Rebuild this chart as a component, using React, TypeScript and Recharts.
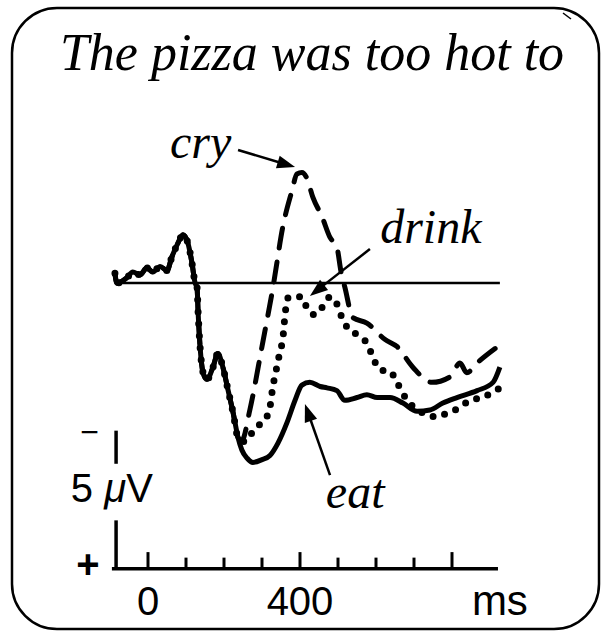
import React from "react";
import { LineChart, Line, XAxis, YAxis, ReferenceLine, ReferenceDot } from "recharts";

// Time in ms, amplitude in µV (negative plotted upward, as usual for ERPs).
// All three conditions share the early part of the waveform.
const EARLY_T = [-87, -82, -55, -40, -21, -3, 13, 32, 50, 63, 79, 92, 105, 116, 124, 129, 132, 137, 145, 155, 171, 184, 197, 211, 224, 237];
const EARLY_V = [-0.35, 0, -0.2, -0.4, -0.3, -0.55, -0.4, -0.6, -0.45, -0.95, -1.45, -1.75, -1.45, -0.7, 0, 0.15, 1.1, 2.3, 3.25, 3.5, 3.05, 2.55, 3.05, 3.9, 4.7, 5.6];

const EAT_T = [247, 261, 276, 300, 321, 342, 366, 387, 405, 426, 453, 471, 497, 518, 550, 576, 603, 637, 671, 708, 742, 776, 813, 866, 908, 926];
const EAT_V = [6.05, 6.35, 6.5, 6.4, 6.25, 5.8, 5.05, 4.25, 3.7, 3.6, 3.75, 3.8, 3.9, 4.25, 4.15, 4.05, 4.15, 4.15, 4.35, 4.65, 4.6, 4.35, 4.15, 3.9, 3.6, 3.05];

const CRY_T = [247, 268, 300, 329, 355, 379, 392, 405, 418, 434, 458, 479, 497, 508, 518, 539, 576, 624, 655, 697, 747, 795, 821, 839, 866, 921];
const CRY_V = [5.7, 4.6, 2.3, 0.15, -2.05, -3.35, -3.95, -4.0, -3.8, -3.1, -2.4, -1.65, -1.3, -0.4, 0.15, 1.25, 1.45, 2.05, 2.3, 3.05, 3.6, 3.4, 2.9, 3.25, 2.9, 2.3];

const DRINK_T = [255, 282, 308, 321, 326, 332, 339, 347, 355, 361, 368, 374, 405, 418, 439, 460, 479, 500, 510, 524, 553, 579, 592, 611, 637, 655, 682, 716, 761, 789, 816, 847, 879, 908, 926];
const DRINK_V = [5.75, 5.25, 4.95, 4.5, 4.0, 3.5, 3.05, 2.5, 2.0, 1.1, 0.55, 0.5, 0.5, 0.9, 1.15, 0.85, 0.5, 0.85, 1.25, 1.6, 1.9, 2.25, 2.7, 3.15, 3.2, 3.6, 4.25, 4.65, 4.85, 4.7, 4.55, 4.25, 4.15, 3.95, 3.8];

const TIME_TICKS = [0, 100, 200, 300, 400, 500, 600, 700, 800];
const MAJOR_TICKS = [0, 400, 800];
const TICK_LABEL_AT = [0, 400];
const TICK_LABELS = ["0", "400"];

const W = 601;
const H = 631;
const MARGIN = { top: 7, right: 35, bottom: 3, left: 34 };
const X_DOMAIN: [number, number] = [-300, 1100];
const Y_DOMAIN: [number, number] = [-10, 12.5];

// time axis + calibration bar (data units)
const AXIS_Y = 10.35;
const AXIS_FROM = -95;
const AXIS_TO = 921;
const CAL_X = -84;
const CAL_TOP = 5.35;
const CAL_BREAK_TOP = 6.55;
const CAL_BREAK_BOTTOM = 8.6;

const pts = (t: number[], v: number[]) => t.map((x, i) => ({ t: x, v: v[i] }));
const eatData = pts([...EARLY_T, ...EAT_T], [...EARLY_V, ...EAT_V]);
const cryData = pts([...EARLY_T, ...CRY_T], [...EARLY_V, ...CRY_V]);
const drinkData = pts([...EARLY_T, ...DRINK_T], [...EARLY_V, ...DRINK_V]);

const serif = { fontFamily: "'Liberation Serif', 'Times New Roman', serif", fontStyle: "italic" };
const sans = { fontFamily: "'Liberation Sans', Arial, sans-serif" };

function textAt(content: React.ReactNode, props: Record<string, unknown>) {
  return (p: any) => (
    <text x={p.cx} y={p.cy} fill="#000" {...props}>
      {content}
    </text>
  );
}

function Arrow(p: any) {
  const { x1, y1, x2, y2 } = p;
  const dx = x2 - x1;
  const dy = y2 - y1;
  const len = Math.hypot(dx, dy) || 1;
  const ux = dx / len;
  const uy = dy / len;
  const hl = 18;
  const hw = 6.5;
  const bx = x2 - ux * hl;
  const by = y2 - uy * hl;
  return (
    <g>
      <line x1={x1} y1={y1} x2={bx + ux * 2} y2={by + uy * 2} stroke="#000" strokeWidth={2.5} />
      <polygon
        points={`${x2},${y2} ${bx - uy * hw},${by + ux * hw} ${bx + uy * hw},${by - ux * hw}`}
        fill="#000"
      />
    </g>
  );
}

export default function App() {
  return (
    <div style={{ position: "absolute", left: 0, top: 0, width: W, height: H, background: "#fff" }}>
      <svg width={W} height={H} style={{ position: "absolute", left: 0, top: 0 }}>
        <rect x={12} y={8} width={587} height={621} rx={45} fill="none" stroke="#000" strokeWidth={2.5} />
        <line x1={563} y1={13} x2={571} y2={19} stroke="#000" strokeWidth={1.5} />
        <text x={312} y={70} textAnchor="middle" fontSize={52} fill="#000" {...serif}>
          The pizza was too hot to
        </text>
      </svg>
      <div style={{ position: "absolute", left: 0, top: 0 }}>
        <LineChart width={W} height={H} margin={MARGIN}>
          <XAxis type="number" dataKey="t" domain={X_DOMAIN} hide allowDataOverflow />
          <YAxis type="number" dataKey="v" domain={Y_DOMAIN} reversed hide allowDataOverflow />

          {/* zero line */}
          <ReferenceLine segment={[{ x: -87, y: 0 }, { x: 926, y: 0 }]} stroke="#000" strokeWidth={2.5} />

          {/* time axis */}
          <ReferenceLine segment={[{ x: AXIS_FROM, y: AXIS_Y }, { x: AXIS_TO, y: AXIS_Y }]} stroke="#000" strokeWidth={3.5} />
          {TIME_TICKS.map((t) => (
            <ReferenceLine
              key={`tick-${t}`}
              segment={[{ x: t, y: AXIS_Y }, { x: t, y: AXIS_Y - (MAJOR_TICKS.includes(t) ? 0.6 : 0.4) }]}
              stroke="#000"
              strokeWidth={3}
            />
          ))}
          {TICK_LABEL_AT.map((t, i) => (
            <ReferenceDot
              key={`lbl-${t}`}
              x={t}
              y={12.03}
              r={0}
              shape={textAt(TICK_LABELS[i], { ...sans, fontSize: 40, textAnchor: "middle" })}
            />
          ))}
          <ReferenceDot x={926} y={12.03} r={0} shape={textAt("ms", { ...sans, fontSize: 42, textAnchor: "middle" })} />

          {/* calibration bar */}
          <ReferenceLine segment={[{ x: CAL_X, y: CAL_TOP }, { x: CAL_X, y: CAL_BREAK_TOP }]} stroke="#000" strokeWidth={3.5} />
          <ReferenceLine segment={[{ x: CAL_X, y: CAL_BREAK_BOTTOM }, { x: CAL_X, y: AXIS_Y }]} stroke="#000" strokeWidth={3.5} />
          <ReferenceDot x={-154} y={5.8} r={0} shape={textAt("\u2212", { ...sans, fontSize: 32, textAnchor: "middle" })} />
          <ReferenceDot x={-158} y={10.69} r={0} shape={textAt("+", { ...sans, fontSize: 40, textAnchor: "middle", fontWeight: "bold" })} />
          <ReferenceDot
            x={-203}
            y={7.93}
            r={0}
            shape={textAt(
              <>
                5 <tspan fontStyle="italic">{"\u03bc"}</tspan>V
              </>,
              { ...sans, fontSize: 40 }
            )}
          />

          {/* waveforms */}
          <Line data={eatData} dataKey="v" type="monotone" stroke="#000" strokeWidth={5} strokeLinejoin="round" dot={false} isAnimationActive={false} />
          <Line data={cryData} dataKey="v" type="monotone" stroke="#000" strokeWidth={5} strokeDasharray="20 14" strokeLinecap="round" dot={false} isAnimationActive={false} />
          <Line data={drinkData} dataKey="v" type="monotone" stroke="#000" strokeWidth={7} strokeDasharray="0 12" strokeLinecap="round" dot={false} isAnimationActive={false} />

          {/* condition labels */}
          <ReferenceDot x={58} y={-4.53} r={0} shape={textAt("cry", { ...serif, fontSize: 48 })} />
          <ReferenceLine segment={[{ x: 237, y: -4.82 }, { x: 387, y: -4.2 }]} shape={(p: any) => <Arrow {...p} />} />
          <ReferenceDot x={611} y={-1.45} r={0} shape={textAt("drink", { ...serif, fontSize: 48 })} />
          <ReferenceLine segment={[{ x: 584, y: -1.23 }, { x: 426, y: 0.47 }]} shape={(p: any) => <Arrow {...p} />} />
          <ReferenceDot x={468} y={8.15} r={0} shape={textAt("eat", { ...serif, fontSize: 48 })} />
          <ReferenceLine segment={[{ x: 479, y: 6.96 }, { x: 413, y: 4.38 }]} shape={(p: any) => <Arrow {...p} />} />
        </LineChart>
      </div>
    </div>
  );
}
